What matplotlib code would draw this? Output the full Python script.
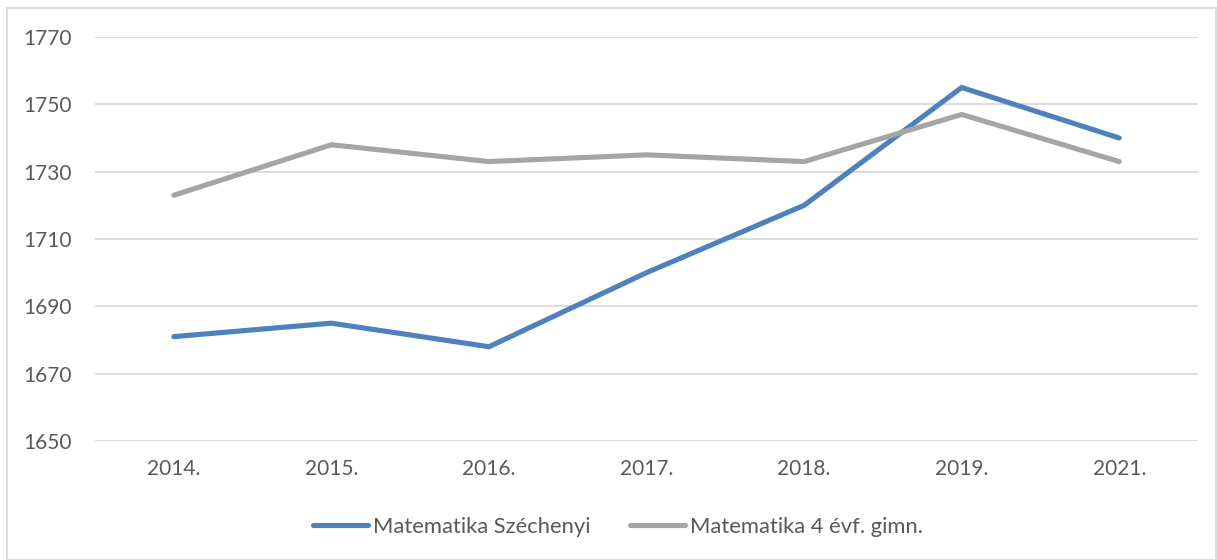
import matplotlib.pyplot as plt
from matplotlib.patches import Rectangle

years = ['2014.', '2015.', '2016.', '2017.', '2018.', '2019.', '2021.']
szechenyi = [1681, 1685, 1678, 1700, 1720, 1755, 1740]
gimn = [1723, 1738, 1733, 1735, 1733, 1747, 1733]

plt.rcParams['font.family'] = ['Lato', 'DejaVu Sans']

fig = plt.figure(figsize=(12.17, 5.6), dpi=100)
ax = fig.add_axes([0.0781, 0.2125, 0.9063, 0.7214])

x = range(len(years))
ax.plot(x, szechenyi, color='#4F81BD', linewidth=3.7, solid_capstyle='round',
        solid_joinstyle='miter', label='Matematika Széchenyi', zorder=3)
ax.plot(x, gimn, color='#A5A5A5', linewidth=3.7, solid_capstyle='round',
        solid_joinstyle='miter', label='Matematika 4 évf. gimn.', zorder=3)

ax.set_xlim(-0.5, len(years) - 0.5)
ax.set_ylim(1650, 1770)
ax.set_yticks(range(1650, 1771, 20))
ax.set_xticks(list(x))
ax.set_xticklabels(years)
ax.grid(axis='y', color='#D9D9D9', linewidth=1.3)
ax.set_axisbelow(True)
for s in ax.spines.values():
    s.set_visible(False)
ax.tick_params(length=0, labelsize=15, colors='#595959')
ax.tick_params(axis='y', pad=16.5)
ax.tick_params(axis='x', pad=13)

leg = fig.legend(loc='center', bbox_to_anchor=(0.508, 0.059), ncol=2, frameon=False,
                 fontsize=15.8, handlelength=2.5, handletextpad=0.23, columnspacing=1.8)
for t in leg.get_texts():
    t.set_color('#595959')

fig.patches.append(Rectangle((7 / 1217, 0), 1 - 8 / 1217, 1 - 8 / 560, transform=fig.transFigure,
                             fill=False, edgecolor='#D9D9D9', linewidth=1.3))

fig.savefig('out.png', dpi=100)
